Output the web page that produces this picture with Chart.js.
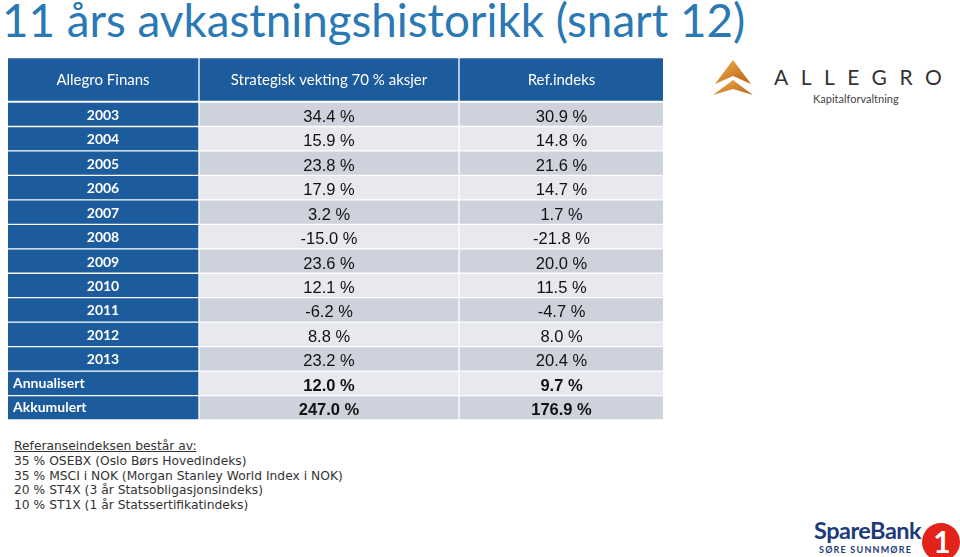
<!DOCTYPE html>
<html>
<head>
<meta charset="utf-8">
<script src="https://cdn.jsdelivr.net/npm/chart.js@4/dist/chart.umd.min.js"></script>
<style>
  body { margin: 0; width: 960px; height: 557px; background: #fff; position: relative; overflow: hidden; font-family: Lato, sans-serif; }
  #title { position: absolute; left: 2px; top: -3px; font-family: Lato, sans-serif; font-size: 46px; line-height: 46px; color: #2a79b5; white-space: nowrap; transform-origin: 0 0; }
  #table-wrap { position: absolute; left: 8px; top: 58px; width: 655px; height: 362px; }
  #note { position: absolute; left: 14px; top: 439px; font-family: "DejaVu Sans", sans-serif; font-size: 12.3px; line-height: 14.8px; color: #333; white-space: nowrap; }
  #note u { text-decoration-thickness: 1px; }
  #allegro-logo { position: absolute; left: 710px; top: 56px; }
  #allegro-word { position: absolute; left: 774px; top: 64px; font-family: Lato, sans-serif; font-size: 21px; letter-spacing: 12.5px; color: #333; }
  #allegro-sub { position: absolute; left: 813px; top: 92px; font-family: Lato, sans-serif; font-size: 11px; color: #444; }
  #sb-word { position: absolute; left: 814px; top: 516px; font-family: Lato, sans-serif; font-weight: 700; font-size: 23.5px; color: #1d3b78; letter-spacing: -0.5px; }
  #sb-sub { position: absolute; left: 819px; top: 544px; font-family: Lato, sans-serif; font-weight: 700; font-size: 9px; color: #1d3b78; letter-spacing: 1.2px; }
  #sb-one { position: absolute; left: 921px; top: 522px; }
</style>
</head>
<body>
<div id="title">11 års avkastningshistorikk (snart 12)</div>

<div id="table-wrap"><canvas id="returnsTable"></canvas></div>

<div id="note">
  <u>Referanseindeksen består av:</u><br>
  35 % OSEBX (Oslo Børs Hovedindeks)<br>
  35 % MSCI i NOK (Morgan Stanley World Index i NOK)<br>
  20 % ST4X (3 år Statsobligasjonsindeks)<br>
  10 % ST1X (1 år Statssertifikatindeks)
</div>

<svg id="allegro-logo" width="46" height="44" viewBox="0 0 46 44">
  <defs>
    <linearGradient id="gold" x1="0" y1="0" x2="1" y2="1">
      <stop offset="0" stop-color="#f0b04a"/>
      <stop offset="1" stop-color="#b8621a"/>
    </linearGradient>
  </defs>
  <polygon points="23,4 41,28 23,20 5,28" fill="url(#gold)"/>
  <polygon points="23,24 43,39 23,33 3,39" fill="url(#gold)"/>
</svg>
<div id="allegro-word">ALLEGRO</div>
<div id="allegro-sub">Kapitalforvaltning</div>

<div id="sb-word">SpareBank</div>
<div id="sb-sub">SØRE SUNNMØRE</div>
<svg id="sb-one" width="40" height="40" viewBox="0 0 40 40">
  <circle cx="20" cy="20" r="19" fill="#e3221b"/>
  <text x="21" y="31" text-anchor="middle" font-family="Lato" font-weight="700" font-size="30" fill="#fff">1</text>
</svg>

<script>
// --- DATA ---
const headers = ['Allegro Finans', 'Strategisk vekting 70 % aksjer', 'Ref.indeks'];
const rowLabels = ['2003', '2004', '2005', '2006', '2007', '2008', '2009', '2010', '2011', '2012', '2013', 'Annualisert', 'Akkumulert'];
const strategicReturns = [34.4, 15.9, 23.8, 17.9, 3.2, -15.0, 23.6, 12.1, -6.2, 8.8, 23.2, 12.0, 247.0];
const refIndexReturns = [30.9, 14.8, 21.6, 14.7, 1.7, -21.8, 20.0, 11.5, -4.7, 8.0, 20.4, 9.7, 176.9];
const summaryRows = ['Annualisert', 'Akkumulert'];

// --- LAYOUT ---
const colWidths = [190, 258, 203];
const colGap = 2;
const colStarts = [];
const colEnds = [];
let pos = 0;
colWidths.forEach(w => { colStarts.push(pos); colEnds.push(pos + w); pos += w + colGap; });
const tableWidth = colEnds[colEnds.length - 1];
const headerRow = -1.42; // header band is taller than a data row
const blue = '#1c5b9c';
const grayDark = '#ced2dc';
const grayLight = '#e7e9ef';

const fmt = v => v.toFixed(1) + ' %';
const isSummary = i => summaryRows.includes(rowLabels[i]);
const stripe = ctx => ctx.dataIndex % 2 === 0 ? grayDark : grayLight;

// --- TEXT PLUGIN ---
const cellText = {
    id: 'cellText',
    afterDatasetsDraw(chart) {
        const { ctx, scales: { x, y } } = chart;
        const cx = c => x.getPixelForValue((colStarts[c] + colEnds[c]) / 2);
        ctx.save();
        ctx.textBaseline = 'middle';

        // header
        ctx.fillStyle = '#fff';
        ctx.textAlign = 'center';
        ctx.font = '15px Lato';
        headers.forEach((h, c) => ctx.fillText(h, cx(c), y.getPixelForValue(headerRow) + 1));

        rowLabels.forEach((label, i) => {
            const py = y.getPixelForValue(i);
            ctx.fillStyle = '#fff';
            ctx.font = 'bold 14px Lato';
            if (isSummary(i)) {
                ctx.textAlign = 'left';
                ctx.fillText(label, x.getPixelForValue(colStarts[0]) + 5, py);
            } else {
                ctx.textAlign = 'center';
                ctx.fillText(label, cx(0), py + 1);
            }
            ctx.fillStyle = '#111';
            ctx.textAlign = 'center';
            ctx.font = (isSummary(i) ? 'bold ' : '') + '16.5px "Liberation Sans"';
            ctx.fillText(fmt(strategicReturns[i]), cx(1), py + 3);
            ctx.fillText(fmt(refIndexReturns[i]), cx(2), py + 3);
        });
        ctx.restore();
    }
};

// --- CHART ---
const cell = (c, row) => ({ x: [colStarts[c], colEnds[c]], y: row });

new Chart(document.getElementById('returnsTable'), {
    type: 'bar',
    data: {
        datasets: [
            {
                label: 'header',
                data: headers.map((h, c) => cell(c, headerRow)),
                backgroundColor: blue,
                barThickness: 42,
                grouped: false
            },
            {
                label: headers[0],
                data: rowLabels.map((l, i) => cell(0, i)),
                backgroundColor: blue,
                barThickness: 22.5,
                grouped: false
            },
            {
                label: headers[1],
                data: strategicReturns.map((v, i) => cell(1, i)),
                backgroundColor: stripe,
                barThickness: 22.5,
                grouped: false
            },
            {
                label: headers[2],
                data: refIndexReturns.map((v, i) => cell(2, i)),
                backgroundColor: stripe,
                barThickness: 22.5,
                grouped: false
            }
        ]
    },
    options: {
        indexAxis: 'y',
        responsive: true,
        maintainAspectRatio: false,
        animation: false,
        layout: { padding: 0 },
        scales: {
            x: { type: 'linear', min: 0, max: tableWidth, display: false, offset: false },
            y: { type: 'linear', min: -2.3, max: 12.5, reverse: true, display: false, offset: false }
        },
        plugins: {
            legend: { display: false },
            tooltip: { enabled: false }
        }
    },
    plugins: [cellText]
});

// squeeze the title to the reference width
const title = document.getElementById('title');
title.style.transform = 'scaleX(' + (743 / title.offsetWidth) + ')';
</script>
</body>
</html>
